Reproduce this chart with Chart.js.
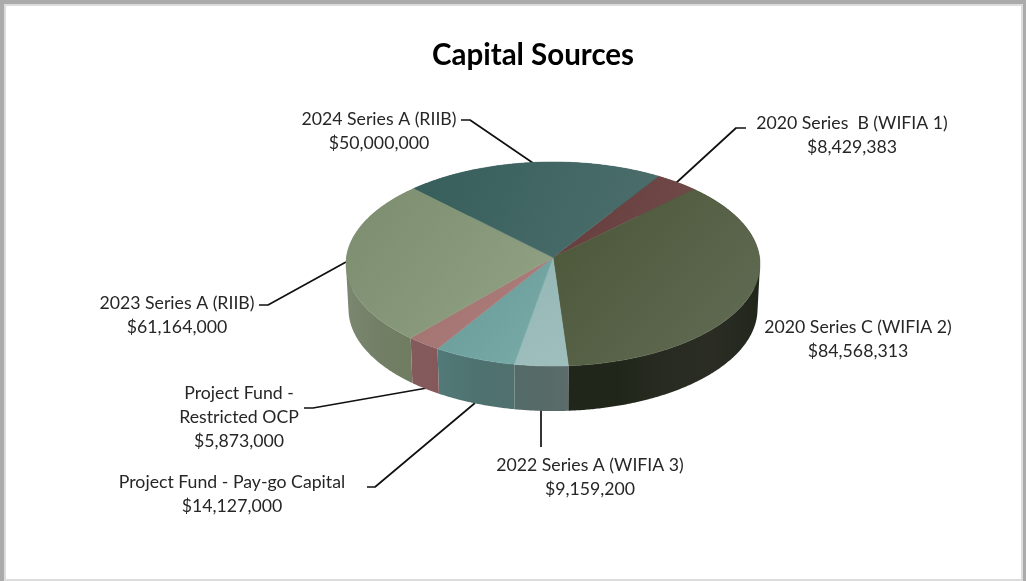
<!DOCTYPE html>
<html>
<head>
<meta charset="utf-8">
<title>Capital Sources</title>
<script src="https://cdn.jsdelivr.net/npm/chart.js@4"></script>
<style>
  html, body { margin: 0; padding: 0; width: 1026px; height: 581px; overflow: hidden; background: #ababab; }
  #sheet { position: absolute; left: 4px; top: 4px; width: 1015px; height: 573px; background: #fff; border: 2px solid #dcdcdc; }
  #pie { position: absolute; left: 0; top: 0; }
</style>
</head>
<body>
<div id="sheet"></div>
<canvas id="pie" width="1026" height="581"></canvas>
<script>
// Funding sources, clockwise from the slice at the upper right
const sourceNames = [
  ['2020 Series  B (WIFIA 1)'],
  ['2020 Series C (WIFIA 2)'],
  ['2022 Series A (WIFIA 3)'],
  ['Project Fund - Pay-go Capital'],
  ['Project Fund -', 'Restricted OCP'],
  ['2023 Series A (RIIB)'],
  ['2024 Series A (RIIB)']
];
const sourceAmounts = [8429383, 84568313, 9159200, 14127000, 5873000, 61164000, 50000000];

// Lit top face of each slice: upper-left colour, lower-right colour
const topFrom = ['#623a3a', '#4b5537', '#93b6b4', '#669a97', '#a27270', '#7b8d6e', '#365e5a'];
const topTo   = ['#734d4b', '#626d56', '#9fbfbd', '#7aaca9', '#ac7e7c', '#93a386', '#4d6f6d'];

// Shaded rim of each slice, left to right
const rimStops = [
  ['#4a2b2b', '#4a2b2b'],
  ['#20261a', '#20261a', '#282b21', '#2b2d24', '#21261b'],
  ['#546b68', '#566a68', '#5b6c6b'],
  ['#527a78', '#4e7270', '#50716e'],
  ['#845a5c', '#85595b'],
  ['#7b8770', '#727f66', '#6f7c5f'],
  ['#2a4543', '#2a4543']
];

// Where each caption sits, and its leader line
const captionCentreX = [852, 858, 590, 232, 239, 177, 379];
const captionFirstY  = [123, 327, 465, 482, 393, 303, 119];
const leaderPaths = [
  [[746, 128], [736, 128], [676, 183]],
  [],
  [[541, 409], [541, 447]],
  [[367, 487], [375, 487], [475, 403]],
  [[304, 408], [313, 408], [427, 388]],
  [[259, 305], [268, 305], [346, 262]],
  [[461, 120], [470, 120], [533, 163]]
];

const titleText = 'Capital Sources';
const labelFont = '17.7px Lato, Carlito, sans-serif';
const titleFont = 'bold 29.5px Lato, Carlito, sans-serif';
const labelLineHeight = 24;

// Tilted-disc projection: foreshortens y and brings the near edge closer;
// the underside sits slightly further away, so it reads a little narrower
const tilt = { squash: 0.491, widen: 0.998, perspective: 0.0637, depth: 45, undersideScale: 0.988 };

function project(el, angle, drop) {
  const u = Math.cos(angle), v = Math.sin(angle);
  const w = 1 - tilt.perspective * v;
  const spread = drop ? tilt.undersideScale : 1;
  return {
    x: el.x + el.outerRadius * tilt.widen * spread * u / w,
    y: el.y + el.outerRadius * tilt.squash * v / w + (drop || 0)
  };
}

function arcPoints(el, drop) {
  const pts = [];
  const steps = Math.max(2, Math.ceil((el.endAngle - el.startAngle) / 0.008));
  for (let i = 0; i <= steps; i++) {
    pts.push(project(el, el.startAngle + (el.endAngle - el.startAngle) * i / steps, drop));
  }
  return pts;
}

function tracePolygon(ctx, pts) {
  ctx.beginPath();
  pts.forEach((p, i) => i ? ctx.lineTo(p.x, p.y) : ctx.moveTo(p.x, p.y));
  ctx.closePath();
}

// Sweeps the top arc down to the underside as one path. Every segment's quad
// is wound the same way, so the non-zero fill gives their union, including
// the vertical walls at the far left and right of the disc.
function traceRim(ctx, top, bottom) {
  ctx.beginPath();
  for (let i = 0; i < top.length - 1; i++) {
    let quad = [top[i], top[i + 1], bottom[i + 1], bottom[i]];
    let area = 0;
    quad.forEach((p, n) => {
      const q = quad[(n + 1) % 4];
      area += p.x * q.y - q.x * p.y;
    });
    if (area < 0) quad = quad.reverse();
    quad.forEach((p, n) => n ? ctx.lineTo(p.x, p.y) : ctx.moveTo(p.x, p.y));
    ctx.closePath();
  }
}

function drawLeaders(ctx) {
  ctx.save();
  ctx.strokeStyle = '#111';
  ctx.lineWidth = 1.7;
  ctx.lineJoin = 'round';
  leaderPaths.forEach(path => {
    if (!path.length) return;
    ctx.beginPath();
    path.forEach((p, i) => i ? ctx.lineTo(p[0], p[1]) : ctx.moveTo(p[0], p[1]));
    ctx.stroke();
  });
  ctx.restore();
}

function drawSlices(ctx, arcs) {
  // Rims first, so the top faces cover the parts facing away
  arcs.forEach((el, i) => {
    const top = arcPoints(el, 0);
    const bottom = arcPoints(el, tilt.depth);
    const xs = top.concat(bottom).map(p => p.x);
    const grad = ctx.createLinearGradient(Math.min(...xs), 0, Math.max(...xs), 0);
    rimStops[i].forEach((c, s, all) => grad.addColorStop(s / (all.length - 1), c));
    traceRim(ctx, top, bottom);
    ctx.fillStyle = grad;
    ctx.fill();
  });
  arcs.forEach((el, i) => {
    const pts = [{ x: el.x, y: el.y }].concat(arcPoints(el, 0));
    const xs = pts.map(p => p.x), ys = pts.map(p => p.y);
    const grad = ctx.createLinearGradient(Math.min(...xs), Math.min(...ys), Math.max(...xs), Math.max(...ys));
    grad.addColorStop(0, topFrom[i]);
    grad.addColorStop(1, topTo[i]);
    tracePolygon(ctx, pts);
    ctx.fillStyle = grad;
    ctx.strokeStyle = grad;
    ctx.lineWidth = 0.5;
    ctx.fill();
    ctx.stroke();
  });
}

function drawCaptions(ctx) {
  ctx.save();
  ctx.textAlign = 'center';
  ctx.textBaseline = 'middle';
  ctx.fillStyle = '#000';
  ctx.font = titleFont;
  ctx.fillText(titleText, 533, 55);
  ctx.fillStyle = '#262626';
  ctx.font = labelFont;
  sourceNames.forEach((lines, i) => {
    const all = lines.concat('$' + sourceAmounts[i].toLocaleString('en-US'));
    all.forEach((line, n) => ctx.fillText(line, captionCentreX[i], captionFirstY[i] + n * labelLineHeight));
  });
  ctx.restore();
}

// Replaces the flat arc drawing with the extruded, tilted disc
const tiltedPie = {
  id: 'tiltedPie',
  beforeDatasetDraw(chart, args) {
    const ctx = chart.ctx;
    drawLeaders(ctx);
    drawSlices(ctx, args.meta.data);
    drawCaptions(ctx);
    return false;
  }
};

new Chart(document.getElementById('pie'), {
  type: 'pie',
  data: {
    labels: sourceNames.map(n => n.join(' ')),
    datasets: [{ data: sourceAmounts, backgroundColor: topTo, borderWidth: 0 }]
  },
  options: {
    responsive: false,
    animation: false,
    rotation: 32.5,
    layout: { padding: { left: 346, right: 266, top: 50.5, bottom: 116.5 } },
    plugins: { legend: { display: false }, tooltip: { enabled: false }, title: { display: false } }
  },
  plugins: [tiltedPie]
});
</script>
</body>
</html>
